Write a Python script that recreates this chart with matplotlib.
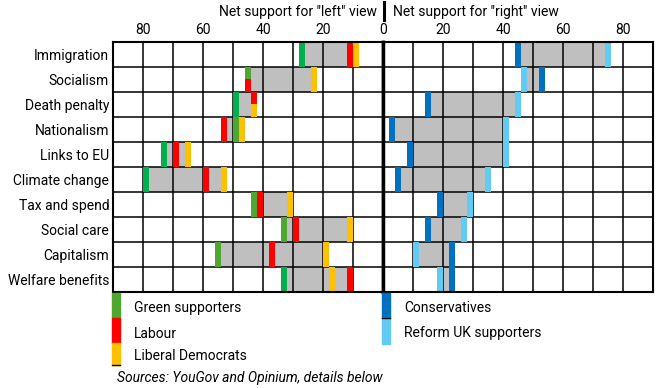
import matplotlib
matplotlib.use("Agg")
import matplotlib.pyplot as plt
from matplotlib.patches import Rectangle
from matplotlib.lines import Line2D

plt.rcParams["font.family"] = ["Roboto", "DejaVu Sans"]
plt.rcParams["font.size"] = 10

# net support values
categories = ["Immigration", "Socialism", "Death penalty", "Nationalism", "Links to EU",
              "Climate change", "Tax and spend", "Social care", "Capitalism", "Welfare benefits"]
green = [27, 45, 49, 49, 73, 79, 43, 33, 55, 33]
labour = [11, 45, 43, 53, 69, 59, 41, 29, 37, 11]
libdem = [9, 23, 43, 47, 65, 53, 31, 11, 19, 17]
con = [45, 53, 15, 3, 9, 5, 19, 15, 23, 23]
reform = [75, 47, 45, 41, 41, 35, 29, 27, 11, 19]
# some rows use the brighter green in the original
green_bright = [True, False, True, False, True, True, False, False, False, True]

left_ticks = [80, 60, 40, 20, 0]
right_ticks = [20, 40, 60, 80]

GREEN = "#4ea72e"
GREEN2 = "#00b050"
RED = "#ff0000"
YELLOW = "#ffc000"
DBLUE = "#0070c0"
LBLUE = "#61cbf3"
GREY = "#bfbfbf"

W, H = 660, 388
fig = plt.figure(figsize=(W / 100, H / 100), dpi=100)


def fx(x):
    return x / W


def fy(y):
    return 1 - y / H


top, bot = 41.5, 292.3
axL = fig.add_axes([fx(113.3), fy(bot), 270 / W, (bot - top) / H])
axR = fig.add_axes([fx(383.3), fy(bot), 270 / W, (bot - top) / H])

mw = 2.0  # marker width in data units


def draw_row(ax, i, items):
    vals = [v for v, c in items]
    lo, hi = min(vals), max(vals)
    ax.barh(i + 0.5, hi - lo, left=lo, height=1, color=GREY, zorder=1)
    groups = {}
    for v, c in items:
        groups.setdefault(v, []).append(c)
    for v, cols in groups.items():
        n = len(cols)
        for j, c in enumerate(cols):
            ax.barh(i + j / n, mw, left=v - mw / 2, height=1 / n, align="edge",
                    color=c, zorder=3)


for i in range(len(categories)):
    gc = GREEN2 if green_bright[i] else GREEN
    draw_row(axL, i, [(green[i], gc), (labour[i], RED), (libdem[i], YELLOW)])
    draw_row(axR, i, [(con[i], DBLUE), (reform[i], LBLUE)])

for ax in (axL, axR):
    ax.set_ylim(10, 0)
    ax.vlines(range(10, 90, 10), 0, 10, colors="black", lw=1.1, zorder=2)
    ax.hlines(range(1, 10), 0, 90, colors="black", lw=1.1, zorder=2)
    ax.xaxis.tick_top()
    ax.tick_params(axis="x", length=0, pad=3, labelsize=10)
    for s in ax.spines.values():
        s.set_linewidth(1.5)
        s.set_zorder(4)

axL.set_xlim(90, 0)
axR.set_xlim(0, 90)
axL.set_xticks(left_ticks)
axR.set_xticks(right_ticks)
axL.set_yticks([i + 0.5 for i in range(len(categories))])
axL.set_yticklabels(categories)
axL.tick_params(axis="y", length=0, pad=3, labelsize=10)
axR.set_yticks([])
axL.spines["right"].set_linewidth(2.5)
axR.spines["left"].set_linewidth(2.5)

# header
fig.text(fx(377), fy(11.7), 'Net support for "left" view', ha="right", va="center", fontsize=10)
fig.text(fx(392.7), fy(11.7), 'Net support for "right" view', ha="left", va="center", fontsize=10)
fig.add_artist(Line2D([fx(383.7), fx(383.7)], [fy(2), fy(20)], color="black", lw=2.2))

# legend
legend_left = [("Green supporters", GREEN, 293, 318, 308.3),
               ("Labour", RED, 318, 343, 334.3),
               ("Liberal Democrats", YELLOW, 343, 365, 355.7)]
legend_right = [("Conservatives", DBLUE, 293, 317.5, 308.3),
                ("Reform UK supporters", LBLUE, 317.5, 344, 333.3)]
for entries, x0, tx in ((legend_left, 112.5, 134.3), (legend_right, 382.3, 404.3)):
    for label, col, y0, y1, ty in entries:
        fig.add_artist(Rectangle((fx(x0), fy(y1)), 7.5 / W, (y1 - y0) / H,
                                 color=col, transform=fig.transFigure))
        fig.text(fx(tx), fy(ty), label, ha="left", va="center", fontsize=10)
fig.add_artist(Line2D([fx(112.5), fx(120)], [fy(365), fy(365)], color="black", lw=1))
fig.add_artist(Line2D([fx(382.3), fx(389.8)], [fy(317.5), fy(317.5)], color="black", lw=1))

fig.text(fx(116.7), fy(377.7), "Sources: YouGov and Opinium, details below",
         ha="left", va="center", fontsize=10, style="italic")

fig.savefig("out.png", dpi=100)
